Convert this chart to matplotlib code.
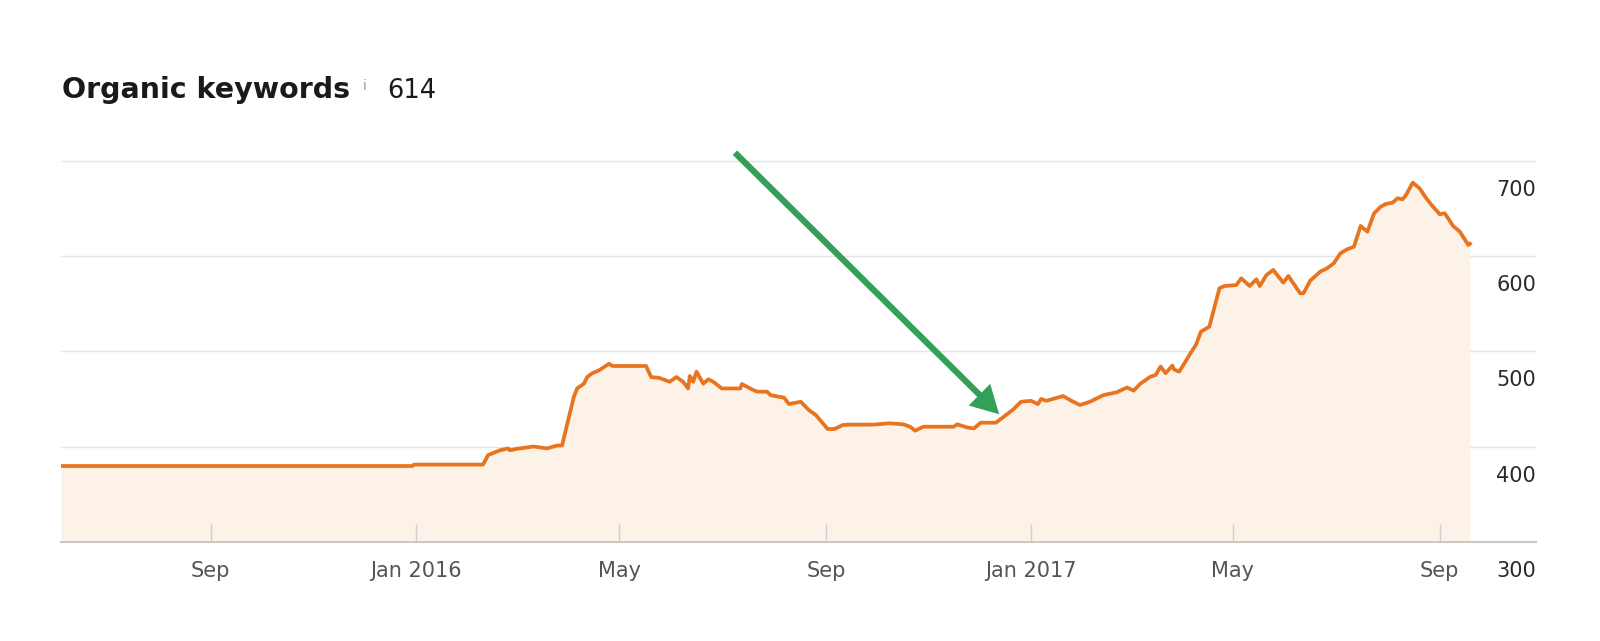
import matplotlib
matplotlib.use("Agg")
import matplotlib.pyplot as plt
import matplotlib.transforms as mtransforms
import pandas as pd

# organic keyword counts
dates = [
    "2015-06-04", "2015-12-30", "2015-12-31", "2016-02-10", "2016-02-13", "2016-02-20",
    "2016-02-25", "2016-02-26", "2016-03-01", "2016-03-11", "2016-03-19", "2016-03-25",
    "2016-03-28", "2016-04-04", "2016-04-06", "2016-04-10", "2016-04-12", "2016-04-15",
    "2016-04-19", "2016-04-25", "2016-04-27", "2016-05-17", "2016-05-20", "2016-05-25",
    "2016-05-31", "2016-06-04", "2016-06-08", "2016-06-11", "2016-06-12", "2016-06-14",
    "2016-06-16", "2016-06-20", "2016-06-23", "2016-06-26", "2016-07-01", "2016-07-12",
    "2016-07-13", "2016-07-19", "2016-07-22", "2016-07-28", "2016-07-30", "2016-08-07",
    "2016-08-10", "2016-08-17", "2016-08-22", "2016-08-26", "2016-09-02", "2016-09-06",
    "2016-09-11", "2016-09-15", "2016-09-29", "2016-10-09", "2016-10-17", "2016-10-21",
    "2016-10-24", "2016-10-29", "2016-11-16", "2016-11-18", "2016-11-24", "2016-11-28",
    "2016-12-02", "2016-12-11", "2016-12-15", "2016-12-21", "2016-12-26", "2017-01-01",
    "2017-01-05", "2017-01-07", "2017-01-10", "2017-01-14", "2017-01-20", "2017-01-25",
    "2017-01-30", "2017-02-05", "2017-02-13", "2017-02-21", "2017-02-27", "2017-03-03",
    "2017-03-07", "2017-03-13", "2017-03-16", "2017-03-19", "2017-03-22", "2017-03-26",
    "2017-03-27", "2017-03-30", "2017-04-01", "2017-04-06", "2017-04-09", "2017-04-12",
    "2017-04-17", "2017-04-23", "2017-04-26", "2017-05-03", "2017-05-06", "2017-05-11",
    "2017-05-15", "2017-05-17", "2017-05-21", "2017-05-25", "2017-05-31", "2017-06-03",
    "2017-06-10", "2017-06-12", "2017-06-16", "2017-06-22", "2017-06-26", "2017-06-30",
    "2017-07-04", "2017-07-08", "2017-07-12", "2017-07-16", "2017-07-20", "2017-07-24",
    "2017-07-28", "2017-07-31", "2017-08-04", "2017-08-07", "2017-08-10", "2017-08-12",
    "2017-08-16", "2017-08-20", "2017-08-24", "2017-08-28", "2017-09-01", "2017-09-04",
    "2017-09-09", "2017-09-13", "2017-09-18", "2017-09-19",
]
keywords = [
    379.5, 379.5, 381, 381, 391, 396,
    398, 396, 397.5, 400, 398, 401,
    401, 452, 461, 466, 473, 477,
    480, 487, 484.6, 484.6, 473, 472,
    468, 473, 468, 461, 474, 468,
    478.6, 466, 470.6, 468, 461, 461,
    465.6, 460, 457.6, 457.6, 454, 451.3,
    444.6, 447, 438, 433, 418.4, 418.4,
    422.6, 423, 423, 424.4, 423.3, 420.8,
    416.6, 420.8, 420.8, 423.3, 420, 419,
    425, 425, 430.3, 438.4, 447, 448,
    444.6, 450, 448, 450, 453, 448,
    443.6, 447, 454, 457, 462, 458.7,
    466, 473.4, 475, 484, 477, 485,
    481, 478.6, 484, 498.6, 506.6, 520.6,
    525.9, 566.2, 568.6, 569.6, 576.7, 568.6,
    575.7, 568.6, 580.2, 585.5, 572.1, 579.2,
    561, 561, 574.2, 583.7, 587.2, 592.5,
    603, 607.2, 609.9, 631.7, 625.7, 645,
    652, 654.8, 656.2, 660.8, 659.7, 664.3,
    677.2, 671.3, 660.8, 652, 644.1, 645,
    631.7, 625.7, 611.7, 613,
]

tick_dates = ["2015-09-01", "2016-01-01", "2016-05-01", "2016-09-01",
              "2017-01-01", "2017-05-01", "2017-09-01"]
tick_labels = ["Sep", "Jan 2016", "May", "Sep", "Jan 2017", "May", "Sep"]
y_ticks = [300, 400, 500, 600, 700]

current_value = "614"
arrow_start = ("2016-07-08 20:00", 708.7)
arrow_tip = ("2016-12-13", 433.9)

LINE = "#e8741f"
FILL = "#fdf2e8"
GREEN = "#33a05a"

x = pd.to_datetime(dates)

fig = plt.figure(figsize=(16, 6.41), dpi=100)
ax = fig.add_axes([61 / 1600, 99.3 / 641, 1475 / 1600, 399.8 / 641])

ax.fill_between(x, keywords, 300, color=FILL, lw=0, zorder=1)
ax.plot(x, keywords, color=LINE, lw=2.7, solid_joinstyle="round", zorder=3)

ax.set_xlim(pd.Timestamp("2015-06-04"), pd.Timestamp("2017-10-28 07:00"))
ax.set_ylim(300, 720)

# gridlines and baseline
for v in y_ticks[1:]:
    ax.axhline(v, color="#e4e4e4", lw=1.0, zorder=0)
for s in ["top", "right", "left"]:
    ax.spines[s].set_visible(False)
ax.spines["bottom"].set_color("#c9c9c9")
ax.spines["bottom"].set_linewidth(1.5)
ax.spines["bottom"].set_zorder(4)

ax.set_xticks(pd.to_datetime(tick_dates))
ax.set_xticklabels(tick_labels)
ax.tick_params(axis="x", direction="in", length=13, width=1, color="#cfcfcf",
               pad=14, labelsize=15, labelcolor="#555555")
ax.set_yticks([])

# right-hand value labels sit just under each gridline
blend = mtransforms.blended_transform_factory(ax.transAxes, ax.transData)
for v in y_ticks:
    ax.annotate(str(v), xy=(1, v), xycoords=blend, xytext=(0, -29),
                textcoords="offset pixels", ha="right", va="center",
                fontsize=15, color="#2a2a2a", annotation_clip=False)

# title row
fig.text(62 / 1600, 1 - 97.7 / 641, "Organic keywords", fontsize=20.5,
         fontweight="bold", color="#1a1a1a", va="baseline")
fig.text(363 / 1600, 1 - 89.5 / 641, "i", fontsize=10, color="#9a9a9a", va="baseline")
fig.text(387 / 1600, 1 - 97.7 / 641, current_value, fontsize=18.5,
         color="#1a1a1a", va="baseline")

# green pointer arrow
ax.annotate("", xy=(pd.Timestamp(arrow_tip[0]), arrow_tip[1]),
            xytext=(pd.Timestamp(arrow_start[0]), arrow_start[1]),
            arrowprops=dict(arrowstyle="simple,head_length=2.0,head_width=2.2,tail_width=0.45",
                            color=GREEN, lw=0, shrinkA=0, shrinkB=0, mutation_scale=10),
            zorder=5, annotation_clip=False)

fig.savefig("out.png", dpi=100, facecolor="white")
plt.close(fig)
